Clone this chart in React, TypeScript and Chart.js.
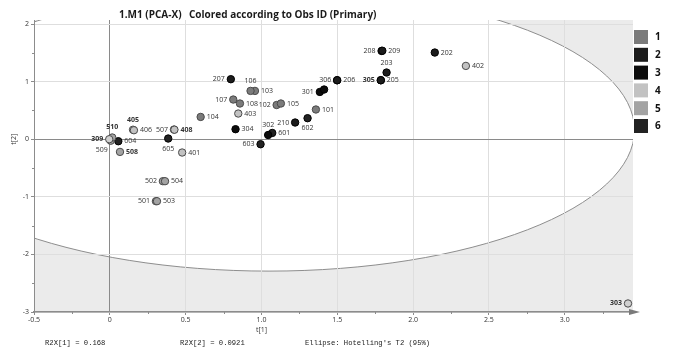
import { useEffect, useRef } from 'react';
import { Chart, registerables } from 'chart.js';
Chart.register(...registerables);

// ---- data ----
const pointIds = [
  '101', '102', '103', '104', '105', '106', '107', '108',
  '202', '203', '205', '206', '207', '208', '209', '210',
  '301', '', '302', '303', '304', '305', '306', '309',
  '401', '402', '403', '405', '406', '408',
  '501', '502', '503', '504', '507', '508', '509', '510',
  '601', '602', '603', '604', '605',
];
const pointGroups = [
  1, 1, 1, 1, 1, 1, 1, 1,
  2, 2, 2, 2, 2, 2, 2, 2,
  3, 3, 3, 3, 3, 3, 3, 3,
  4, 4, 4, 4, 4, 4,
  5, 5, 5, 5, 5, 5, 5, 5,
  6, 6, 6, 6, 6,
];
const t1Values = [
  1.359, 1.100, 0.957, 0.599, 1.128, 0.928, 0.814, 0.858,
  2.143, 1.825, 1.787, 1.499, 0.798, 1.792, 1.797, 1.222,
  1.385, 1.413, 1.044, 3.417, 0.829, 1.787, 1.499, -0.004,
  0.477, 2.348, 0.847, 0.153, 0.159, 0.426,
  0.304, 0.350, 0.311, 0.364, 0.423, 0.067, 0.006, 0.016,
  1.071, 1.304, 0.994, 0.056, 0.385,
];
const t2Values = [
  0.516, 0.594, 0.839, 0.387, 0.620, 0.839, 0.689, 0.620,
  1.505, 1.158, 1.024, 1.024, 1.042, 1.533, 1.536, 0.290,
  0.821, 0.863, 0.073, -2.852, 0.174, 1.024, 1.024, 0.0,
  -0.231, 1.273, 0.446, 0.165, 0.156, 0.165,
  -1.076, -0.729, -1.076, -0.729, 0.168, -0.220, -0.026, 0.030,
  0.109, 0.365, -0.087, -0.035, 0.012,
];
const labelSides = [
  'r', 'l', 'r', 'r', 'r', 't', 'l', 'r',
  'r', 't', 'r', 'r', 'l', 'l', 'r', 'l',
  'l', 'n', 't', 'l', 'r', 'l', 'l', 'l',
  'r', 'r', 'r', 't', 'r', 'r',
  'l', 'l', 'r', 'r', 'l', 'r', 'bl', 't',
  'r', 'b', 'l', 'r', 'b',
];
const boldLabelIds = ['309', '510', '405', '408', '508', '305', '303'];
const lightFillIds = ['303', '309'];
const groupNames = ['1', '2', '3', '4', '5', '6'];
const groupColors = ['#7b7b7b', '#1c1c1c', '#0c0c0c', '#c2c2c2', '#a3a3a3', '#222222'];
const xTickValues = [-0.5, 0, 0.5, 1, 1.5, 2, 2.5, 3];
const yTickValues = [-3, -2, -1, 0, 1, 2];
const xRange = [-0.5, 3.45];
const yRange = [-3, 2.07];
const ellipseCenter = [1.05, 0.16];
const ellipseAxes = [2.41, 2.45];
const titleParts = ['1.M1 (PCA-X)', 'Colored according to Obs ID (Primary)'];
const footerTexts = ['R2X[1] = 0.168', 'R2X[2] = 0.0921', "Ellipse: Hotelling's T2 (95%)"];
const xTitle = 't[1]';
const yTitle = 't[2]';

const FONT = "'Open Sans', 'DejaVu Sans', sans-serif";

const bgPlugin = {
  id: 'bgEllipse',
  beforeDraw(chart: any) {
    const { ctx, chartArea: a, scales } = chart;
    const x = scales.x, y = scales.y;
    ctx.save();
    ctx.fillStyle = '#ffffff';
    ctx.fillRect(0, 0, chart.width, chart.height);
    ctx.beginPath();
    ctx.rect(a.left, a.top, a.right - a.left, a.bottom - a.top);
    ctx.clip();
    ctx.fillStyle = '#ebebeb';
    ctx.fillRect(a.left, a.top, a.right - a.left, a.bottom - a.top);
    const cx = x.getPixelForValue(ellipseCenter[0]);
    const cy = y.getPixelForValue(ellipseCenter[1]);
    const rx = Math.abs(x.getPixelForValue(ellipseCenter[0] + ellipseAxes[0]) - cx);
    const ry = Math.abs(y.getPixelForValue(ellipseCenter[1] + ellipseAxes[1]) - cy);
    ctx.beginPath();
    ctx.ellipse(cx, cy, rx, ry, 0, 0, Math.PI * 2);
    ctx.fillStyle = '#ffffff';
    ctx.fill();
    ctx.strokeStyle = '#8e8e8e';
    ctx.lineWidth = 1;
    ctx.stroke();
    ctx.restore();
  },
};

const labelPlugin = {
  id: 'pointLabels',
  afterDatasetsDraw(chart: any) {
    const { ctx } = chart;
    ctx.save();
    ctx.fillStyle = '#333333';
    chart.data.datasets.forEach((ds: any, di: number) => {
      const meta = chart.getDatasetMeta(di);
      ds.data.forEach((d: any, i: number) => {
        const el = meta.data[i];
        if (!el || d.side === 'n' || !d.id) return;
        const px = el.x, py = el.y;
        const bold = boldLabelIds.includes(d.id);
        ctx.font = `${bold ? 'bold ' : ''}7px ${FONT}`;
        let tx = px, ty = py;
        ctx.textBaseline = 'middle';
        if (d.side === 'r') { ctx.textAlign = 'left'; tx = px + 6; }
        else if (d.side === 'l') { ctx.textAlign = 'right'; tx = px - 6; }
        else if (d.side === 't') { ctx.textAlign = 'center'; ty = py - 10; }
        else if (d.side === 'b') { ctx.textAlign = 'center'; ty = py + 10; }
        else if (d.side === 'bl') { ctx.textAlign = 'right'; tx = px - 3; ty = py + 9; }
        ctx.fillText(d.id, tx, ty);
      });
    });
    ctx.restore();
  },
};

const overlayPlugin = {
  id: 'overlay',
  afterDraw(chart: any) {
    const { ctx, chartArea: a, scales } = chart;
    const x = scales.x, y = scales.y;
    ctx.save();
    // minor ticks
    ctx.strokeStyle = '#8c8c8c';
    ctx.lineWidth = 1;
    for (let v = -0.25; v < xRange[1]; v += 0.5) {
      const px = Math.round(x.getPixelForValue(v)) + 0.5;
      ctx.beginPath(); ctx.moveTo(px, a.bottom); ctx.lineTo(px, a.bottom + 2); ctx.stroke();
    }
    for (let v = -2.5; v < yRange[1]; v += 1) {
      const py = Math.round(y.getPixelForValue(v)) + 0.5;
      ctx.beginPath(); ctx.moveTo(a.left, py); ctx.lineTo(a.left - 2, py); ctx.stroke();
    }
    // arrow on x axis
    ctx.fillStyle = '#7a7a7a';
    ctx.beginPath();
    ctx.moveTo(a.right - 4, a.bottom - 3);
    ctx.lineTo(a.right + 7, a.bottom);
    ctx.lineTo(a.right - 4, a.bottom + 3);
    ctx.closePath();
    ctx.fill();
    // title
    ctx.fillStyle = '#1a1a1a';
    ctx.font = `bold 10px ${FONT}`;
    ctx.textAlign = 'left';
    ctx.textBaseline = 'middle';
    ctx.fillText(titleParts[0], 119, 15);
    ctx.fillText(titleParts[1], 189, 15);
    // axis titles
    ctx.fillStyle = '#333333';
    ctx.font = `7px ${FONT}`;
    ctx.textAlign = 'center';
    ctx.fillText(xTitle, x.getPixelForValue(1), 330);
    ctx.save();
    ctx.translate(14, y.getPixelForValue(0));
    ctx.rotate(-Math.PI / 2);
    ctx.fillText(yTitle, 0, 0);
    ctx.restore();
    // footer
    ctx.font = `7.2px 'Liberation Mono', 'DejaVu Sans Mono', monospace`;
    ctx.textAlign = 'left';
    ctx.fillStyle = '#222222';
    const fx = [45, 180, 305];
    footerTexts.forEach((t, i) => ctx.fillText(t, fx[i], 343));
    // legend
    groupNames.forEach((g, i) => {
      const top = 30 + i * 17.8;
      ctx.fillStyle = groupColors[i];
      ctx.fillRect(634, top, 14, 14);
      ctx.fillStyle = '#111111';
      ctx.font = `bold 10px ${FONT}`;
      ctx.textAlign = 'left';
      ctx.fillText(g, 655, top + 7.5);
    });
    ctx.restore();
  },
};

export default function App() {
  const ref = useRef<HTMLCanvasElement | null>(null);
  useEffect(() => {
    if (!ref.current) return;
    const datasets = groupNames.map((g, gi) => {
      const data = pointIds
        .map((id, i) => ({ x: t1Values[i], y: t2Values[i], id, side: labelSides[i], grp: pointGroups[i] }))
        .filter((d) => d.grp === gi + 1);
      return {
        label: g,
        data,
        pointRadius: 3.7,
        pointHoverRadius: 3.7,
        borderWidth: 1,
        backgroundColor: (c: any) => (c.raw && lightFillIds.includes(c.raw.id) ? '#d0d0d0' : groupColors[gi]),
        borderColor: (c: any) => (c.raw && lightFillIds.includes(c.raw.id) ? '#4a4a4a' : (gi === 1 || gi === 2 || gi === 5 ? '#000000' : '#4a4a4a')),
      };
    });
    const gridColor = (c: any) => (c.tick && Math.abs(c.tick.value) < 1e-9 ? '#8a8a8a' : '#dedede');
    const chart = new Chart(ref.current, {
      type: 'scatter',
      data: { datasets } as any,
      options: {
        animation: false,
        responsive: false,
        devicePixelRatio: 1,
        layout: { padding: { top: 20, right: 41, left: 0, bottom: 0 } },
        plugins: { legend: { display: false }, tooltip: { enabled: false } },
        scales: {
          x: {
            type: 'linear',
            min: xRange[0],
            max: xRange[1],
            afterBuildTicks: (s: any) => { s.ticks = xTickValues.map((v) => ({ value: v })); },
            afterFit: (s: any) => { s.height = 37; },
            ticks: { font: { size: 7, family: FONT }, color: '#333', padding: 1, maxRotation: 0, autoSkip: false },
            grid: { color: gridColor, tickColor: '#8c8c8c', tickLength: 3, lineWidth: 1 },
            border: { color: '#8c8c8c', width: 1.5 },
          },
          y: {
            type: 'linear',
            min: yRange[0],
            max: yRange[1],
            afterBuildTicks: (s: any) => { s.ticks = yTickValues.map((v) => ({ value: v })); },
            afterFit: (s: any) => { s.width = 34; },
            ticks: { font: { size: 7, family: FONT }, color: '#333', padding: 2, autoSkip: false },
            grid: { color: gridColor, tickColor: '#8c8c8c', tickLength: 3, lineWidth: 1 },
            border: { color: '#8c8c8c', width: 1 },
          },
        },
      } as any,
      plugins: [bgPlugin, labelPlugin, overlayPlugin],
    });
    return () => chart.destroy();
  }, []);
  return (
    <div style={{ position: 'fixed', left: 0, top: 0, width: 674, height: 349, background: '#fff' }}>
      <canvas ref={ref} width={674} height={349} style={{ display: 'block' }} />
    </div>
  );
}
